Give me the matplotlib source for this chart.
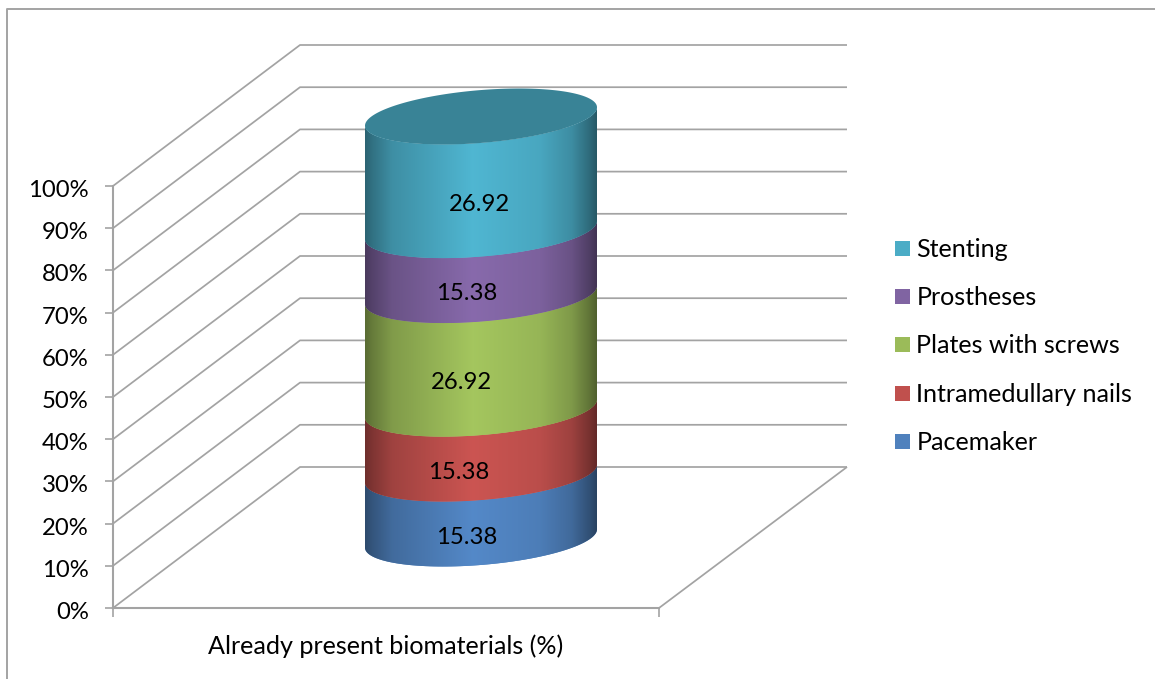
import numpy as np
import matplotlib
matplotlib.use("Agg")
import matplotlib.pyplot as plt
from matplotlib.lines import Line2D
from matplotlib.patches import Polygon, Rectangle
from matplotlib.transforms import ScaledTranslation

plt.rcParams["font.family"] = ["Lato", "DejaVu Sans"]

# stack order, bottom to top
categories = ["Pacemaker", "Intramedullary nails", "Plates with screws", "Prostheses", "Stenting"]
values = [15.38, 15.38, 26.92, 15.38, 26.92]
colors = ["#4F81BD", "#C0504D", "#9BBB59", "#8064A2", "#4BACC6"]
y_ticks = [0, 10, 20, 30, 40, 50, 60, 70, 80, 90, 100]
x_name = "Already present biomaterials (%)"
label_x = [467, 459, 462, 467, 480]

W, H = 1155, 679
GRID = "#a3a3a3"
FONT = 17.2
FONT_WIDE = 18.1

fig = plt.figure(figsize=(W / 100, H / 100), dpi=100)
# x axis runs in pixels so the 3d walls are easy to lay out, y is the percent scale
ax = fig.add_axes([113 / W, (H - 608) / H, 546 / W, 422 / H])
ax.set_facecolor("none")

back_x, back_r = 300, 847
depth = 141 / 4.22  # how far the back wall sits up the percent scale

# chart frame, only top and left are inside the image
fig.add_artist(Line2D([7 / W, 7 / W, 1], [0, 1 - 9 / H, 1 - 9 / H], transform=fig.transFigure, color=GRID, lw=1.4))

# walls
for p in y_ticks:
    ax.plot([113, back_x, back_r], [p, p + depth, p + depth], color=GRID, lw=1.25, clip_on=False, zorder=1, solid_capstyle="butt")
ax.plot([659, back_r], [0, depth], color=GRID, lw=1.25, clip_on=False, zorder=1, solid_capstyle="butt")

# cylinder geometry
cx = 481
base = (608 - 538.5) / 4.22
ux, vx, vy = 109.6, 38, 28 / 4.22
t0 = np.arctan2(vx, ux)


def front_arc(level):
    t = np.linspace(t0 + np.pi, t0 + 2 * np.pi, 80)
    return np.column_stack([cx + ux * np.cos(t) + vx * np.sin(t), base + level + vy * np.sin(t)])


def full_ellipse(level):
    t = np.linspace(0, 2 * np.pi, 200)
    return np.column_stack([cx + ux * np.cos(t) + vx * np.sin(t), base + level + vy * np.sin(t)])


x0, x1 = 365, 597
xs = np.arange(x0, x1 + 1)
shade = np.interp(xs, [365, 372, 392, 473, 540, 572, 590, 597], [0.58, 0.66, 0.83, 1.06, 0.97, 0.82, 0.62, 0.52])

total = sum(values)
cum = np.cumsum([0] + values) / total * 100

for i, (name, c) in enumerate(zip(categories, colors)):
    lo, hi = cum[i], cum[i + 1]
    rgb = np.array(matplotlib.colors.to_rgb(c))
    grad = np.clip(shade[:, None] * rgb, 0, 1)[None, :, :]
    outline = np.vstack([front_arc(hi), front_arc(lo)[::-1]])
    patch = Polygon(outline, closed=True, facecolor=c, edgecolor="none", transform=ax.transData, clip_on=False, zorder=3)
    ax.add_patch(patch)
    im = ax.imshow(grad, extent=(x0, x1, base + lo - vy - 2, base + hi + vy + 2), aspect="auto", zorder=3.1, interpolation="bilinear")
    im.set_clip_box(fig.bbox)
    im.set_clip_path(patch)

    mid = (lo + hi) / 2
    ax.text(label_x[i], base + mid - 31 / 4.22, f"{values[i]:.2f}", ha="center", va="center", fontsize=FONT, color="black", zorder=5, clip_on=False)

top_rgb = np.array(matplotlib.colors.to_rgb(colors[-1])) * 0.76
ax.add_patch(Polygon(full_ellipse(100), closed=True, facecolor=top_rgb, edgecolor="none", clip_on=False, zorder=4))

# axes
ax.set_xlim(113, 659)
ax.set_ylim(0, 100)
ax.set_yticks(y_ticks)
ax.set_yticklabels([f"{p}%" for p in y_ticks], fontsize=FONT)
ax.set_xticks([113, 659])
ax.set_xticklabels([])
ax.tick_params(axis="y", length=6, width=1.2, color=GRID, pad=11.5)
ax.tick_params(axis="x", length=6.5, width=1.2, color=GRID)
# tick labels sit a little below their ticks, has to come after tick_params
nudge = ScaledTranslation(0, -2.5 / 100, fig.dpi_scale_trans)
for lab in ax.get_yticklabels():
    lab.set_transform(lab.get_transform() + nudge)
ax.set_xlabel(x_name, fontsize=FONT_WIDE, labelpad=9)
for side in ["top", "right"]:
    ax.spines[side].set_visible(False)
for side in ["left", "bottom"]:
    ax.spines[side].set_color(GRID)
    ax.spines[side].set_linewidth(1.5)
    ax.spines[side].set_zorder(2)

# legend, drawn top to bottom in reverse stack order
for j, i in enumerate(range(len(categories) - 1, -1, -1)):
    yc = 248.5 + 48.2 * j
    fig.add_artist(Rectangle((895 / W, 1 - (yc + 7.5) / H), 15 / W, 15 / H, transform=fig.transFigure, facecolor=colors[i], edgecolor="none"))
    fig.text(916.5 / W, 1 - (yc + 1) / H, categories[i], ha="left", va="center", fontsize=FONT_WIDE, color="black")

fig.savefig("out.png", dpi=100, facecolor="white")
